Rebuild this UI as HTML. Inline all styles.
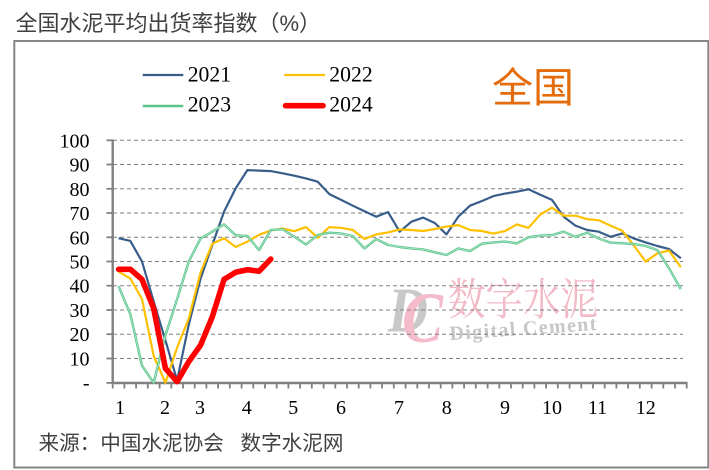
<!DOCTYPE html>
<html>
<head>
<meta charset="utf-8">
<style>
html,body{margin:0;padding:0;background:#fff;}
svg{display:block;}
</style>
</head>
<body>
<svg width="709" height="470" viewBox="0 0 709 470" xmlns="http://www.w3.org/2000/svg">
<rect x="0" y="0" width="709" height="470" fill="#fff"/>
<!-- title -->
<text x="15.5" y="31" font-family="Liberation Sans, Noto Sans CJK SC, sans-serif" font-size="22" fill="#404040">全国水泥平均出货率指数（%）</text>
<!-- frame -->
<rect x="14.3" y="41" width="694" height="426.5" fill="none" stroke="#868686" stroke-width="2"/>

<!-- watermark -->
<g>
<text x="388" y="331.5" font-family="Liberation Serif, serif" font-style="italic" font-weight="bold" font-size="64" fill="#c8c8c8" textLength="40" lengthAdjust="spacingAndGlyphs">D</text>
<text x="402" y="342" font-family="Liberation Serif, serif" font-style="italic" font-weight="bold" font-size="72" fill="#f4bccb" textLength="41" lengthAdjust="spacingAndGlyphs">C</text>
<text x="448" y="314.5" font-family="Liberation Serif, Noto Serif CJK SC, serif" font-size="44" fill="#f2b9c6" textLength="150" lengthAdjust="spacingAndGlyphs">数字水泥</text>
<text x="450" y="340" font-family="Liberation Serif, serif" font-weight="bold" font-size="20" fill="#c6c6c6" textLength="147" lengthAdjust="spacing" transform="rotate(-3.9 450 340)">Digital Cement</text>
</g>

<!-- gridlines -->
<g stroke="#808080" stroke-width="1" stroke-dasharray="4,3" fill="none">
<line x1="113" y1="140.3" x2="683" y2="140.3"/>
<line x1="113" y1="164.5" x2="683" y2="164.5"/>
<line x1="113" y1="188.8" x2="683" y2="188.8"/>
<line x1="113" y1="213.0" x2="683" y2="213.0"/>
<line x1="113" y1="237.3" x2="683" y2="237.3"/>
<line x1="113" y1="261.5" x2="683" y2="261.5"/>
<line x1="113" y1="285.7" x2="683" y2="285.7"/>
<line x1="113" y1="310.0" x2="683" y2="310.0"/>
<line x1="113" y1="334.2" x2="683" y2="334.2"/>
<line x1="113" y1="358.5" x2="683" y2="358.5"/>
</g>

<!-- axes -->
<g stroke="#808080" stroke-width="2.4" fill="none">
<line x1="112.7" y1="139.5" x2="112.7" y2="384"/>
<line x1="111.5" y1="383" x2="687.5" y2="383"/>
</g>
<g stroke="#808080" stroke-width="1.8">
<line x1="106.5" y1="140.3" x2="112.7" y2="140.3"/>
<line x1="106.5" y1="164.5" x2="112.7" y2="164.5"/>
<line x1="106.5" y1="188.8" x2="112.7" y2="188.8"/>
<line x1="106.5" y1="213.0" x2="112.7" y2="213.0"/>
<line x1="106.5" y1="237.3" x2="112.7" y2="237.3"/>
<line x1="106.5" y1="261.5" x2="112.7" y2="261.5"/>
<line x1="106.5" y1="285.7" x2="112.7" y2="285.7"/>
<line x1="106.5" y1="310.0" x2="112.7" y2="310.0"/>
<line x1="106.5" y1="334.2" x2="112.7" y2="334.2"/>
<line x1="106.5" y1="358.5" x2="112.7" y2="358.5"/>
<line x1="106.5" y1="382.9" x2="112.7" y2="382.9"/>
</g>
<path stroke="#808080" stroke-width="1.8" fill="none" d="M112.7 383v5.5M124.4 383v5.5M136.1 383v5.5M147.8 383v5.5M159.6 383v5.5M171.3 383v5.5M183.0 383v5.5M194.7 383v5.5M206.4 383v5.5M218.1 383v5.5M229.8 383v5.5M241.6 383v5.5M253.3 383v5.5M265.0 383v5.5M276.7 383v5.5M288.4 383v5.5M300.1 383v5.5M311.8 383v5.5M323.6 383v5.5M335.3 383v5.5M347.0 383v5.5M358.7 383v5.5M370.4 383v5.5M382.1 383v5.5M393.8 383v5.5M405.6 383v5.5M417.3 383v5.5M429.0 383v5.5M440.7 383v5.5M452.4 383v5.5M464.1 383v5.5M475.8 383v5.5M487.6 383v5.5M499.3 383v5.5M511.0 383v5.5M522.7 383v5.5M534.4 383v5.5M546.1 383v5.5M557.8 383v5.5M569.6 383v5.5M581.3 383v5.5M593.0 383v5.5M604.7 383v5.5M616.4 383v5.5M628.1 383v5.5M639.8 383v5.5M651.6 383v5.5M663.3 383v5.5M675.0 383v5.5M686.7 383v5.5"/>

<!-- y labels -->
<g font-family="Liberation Serif, serif" font-size="20" fill="#000" text-anchor="end">
<text x="89.5" y="147.3">100</text>
<text x="89.5" y="171.5">90</text>
<text x="89.5" y="195.8">80</text>
<text x="89.5" y="220.0">70</text>
<text x="89.5" y="244.3">60</text>
<text x="89.5" y="268.5">50</text>
<text x="89.5" y="292.7">40</text>
<text x="89.5" y="317.0">30</text>
<text x="89.5" y="341.2">20</text>
<text x="89.5" y="365.5">10</text>
<text x="89.5" y="389.7">-</text>
</g>

<!-- x labels -->
<g font-family="Liberation Serif, serif" font-size="20" fill="#000" text-anchor="middle">
<text x="120" y="414">1</text>
<text x="165" y="414">2</text>
<text x="200" y="414">3</text>
<text x="246.7" y="414">4</text>
<text x="293.3" y="414">5</text>
<text x="341" y="414">6</text>
<text x="399" y="414">7</text>
<text x="446.7" y="414">8</text>
<text x="505" y="414">9</text>
<text x="552" y="414">10</text>
<text x="597.5" y="414">11</text>
<text x="645.8" y="414">12</text>
</g>

<!-- series -->
<g fill="none" stroke-linejoin="round">
<polyline stroke="#385d8a" stroke-width="2.2" points="118.6,238.2 130.3,240.9 142.0,261.5 153.7,301.5 165.4,340.3 177.1,380.3 188.8,324.5 200.6,278.5 212.3,245.0 224.0,211.8 235.7,188.3 247.4,170.1 259.1,170.6 270.8,171.1 282.6,173.3 294.3,175.7 306.0,178.4 317.7,181.7 329.4,194.1 341.1,199.9 352.8,205.7 364.5,211.3 376.3,216.7 388.0,212.1 399.7,231.7 411.4,221.7 423.1,217.6 434.8,223.0 446.5,234.4 458.3,216.7 470.0,205.7 481.7,201.1 493.4,196.1 505.1,193.6 516.8,191.7 528.5,189.3 540.3,194.8 552.0,199.9 563.7,216.7 575.4,225.6 587.1,230.0 598.8,231.7 610.5,236.8 622.3,233.4 634.0,238.5 645.7,242.4 657.4,246.0 669.1,249.1 680.8,258.3"/>
<polyline stroke="#ffc000" stroke-width="2.2" points="118.6,271.7 130.3,278.5 142.0,299.1 153.7,356.0 165.4,382.7 177.1,347.6 188.8,318.5 200.6,272.4 212.3,243.8 224.0,238.2 235.7,247.0 247.4,241.6 259.1,234.8 270.8,230.5 282.6,228.5 294.3,231.2 306.0,227.1 317.7,237.7 329.4,227.1 341.1,227.8 352.8,230.0 364.5,239.0 376.3,234.4 388.0,232.4 399.7,229.5 411.4,230.0 423.1,231.0 434.8,229.0 446.5,226.6 458.3,225.1 470.0,230.0 481.7,231.0 493.4,233.6 505.1,231.0 516.8,224.4 528.5,227.8 540.3,214.5 552.0,207.7 563.7,215.7 575.4,215.7 587.1,219.1 598.8,220.3 610.5,225.6 622.3,230.7 634.0,245.7 645.7,261.7 657.4,253.3 669.1,250.6 680.8,267.3"/>
<polyline stroke="#5cc48b" stroke-width="2.4" points="118.6,286.2 130.3,314.1 142.0,365.7 153.7,382.7 165.4,335.4 177.1,299.1 188.8,261.5 200.6,238.5 212.3,231.7 224.0,224.4 235.7,235.3 247.4,236.0 259.1,250.1 270.8,230.0 282.6,229.3 294.3,236.8 306.0,244.5 317.7,235.1 329.4,232.7 341.1,233.6 352.8,236.0 364.5,248.4 376.3,239.0 388.0,245.0 399.7,247.0 411.4,248.4 423.1,249.4 434.8,252.3 446.5,255.0 458.3,248.4 470.0,251.1 481.7,243.8 493.4,242.4 505.1,241.6 516.8,243.3 528.5,237.3 540.3,235.6 552.0,235.1 563.7,231.7 575.4,236.8 587.1,232.7 598.8,238.5 610.5,242.6 622.3,243.3 634.0,244.0 645.7,246.0 657.4,250.1 669.1,268.3 680.8,289.1"/>
<polyline stroke="#b8ead0" stroke-width="0.7" points="118.6,286.2 130.3,314.1 142.0,365.7 153.7,382.7 165.4,335.4 177.1,299.1 188.8,261.5 200.6,238.5 212.3,231.7 224.0,224.4 235.7,235.3 247.4,236.0 259.1,250.1 270.8,230.0 282.6,229.3 294.3,236.8 306.0,244.5 317.7,235.1 329.4,232.7 341.1,233.6 352.8,236.0 364.5,248.4 376.3,239.0 388.0,245.0 399.7,247.0 411.4,248.4 423.1,249.4 434.8,252.3 446.5,255.0 458.3,248.4 470.0,251.1 481.7,243.8 493.4,242.4 505.1,241.6 516.8,243.3 528.5,237.3 540.3,235.6 552.0,235.1 563.7,231.7 575.4,236.8 587.1,232.7 598.8,238.5 610.5,242.6 622.3,243.3 634.0,244.0 645.7,246.0 657.4,250.1 669.1,268.3 680.8,289.1"/>
<polyline stroke="#ff0000" stroke-width="5.6" stroke-linecap="round" points="118.6,269.3 130.3,269.3 142.0,279.4 153.7,308.5 165.4,368.4 177.1,381.7 188.8,361.6 200.6,345.1 212.3,316.8 224.0,279.4 235.7,272.2 247.4,269.7 259.1,271.2 270.8,259.1"/>
</g>

<!-- legend -->
<g stroke-linecap="butt">
<line x1="142.7" y1="75" x2="183.3" y2="75" stroke="#385d8a" stroke-width="2.2"/>
<line x1="284.3" y1="75" x2="325" y2="75" stroke="#ffc000" stroke-width="2.2"/>
<line x1="142.7" y1="106" x2="183.3" y2="106" stroke="#5cc48b" stroke-width="2.4"/>
<line x1="285.5" y1="105.7" x2="323" y2="105.7" stroke="#ff0000" stroke-width="5.6" stroke-linecap="round"/>
</g>
<g font-family="Liberation Serif, serif" font-size="21.7" fill="#000">
<text x="187.7" y="81.3">2021</text>
<text x="329.3" y="81.3">2022</text>
<text x="187.7" y="111.7">2023</text>
<text x="329.3" y="111.7">2024</text>
</g>

<!-- big label -->
<text x="492" y="102" font-family="Liberation Sans, Noto Sans CJK SC, sans-serif" font-size="41" fill="#e46c0a">全国</text>

<!-- source -->
<text x="38.5" y="450" font-family="Liberation Sans, Noto Sans CJK SC, sans-serif" font-size="20.6" fill="#404040">来源：中国水泥协会</text>
<text x="240.5" y="450" font-family="Liberation Sans, Noto Sans CJK SC, sans-serif" font-size="20.6" fill="#404040">数字水泥网</text>
</svg>
</body>
</html>
